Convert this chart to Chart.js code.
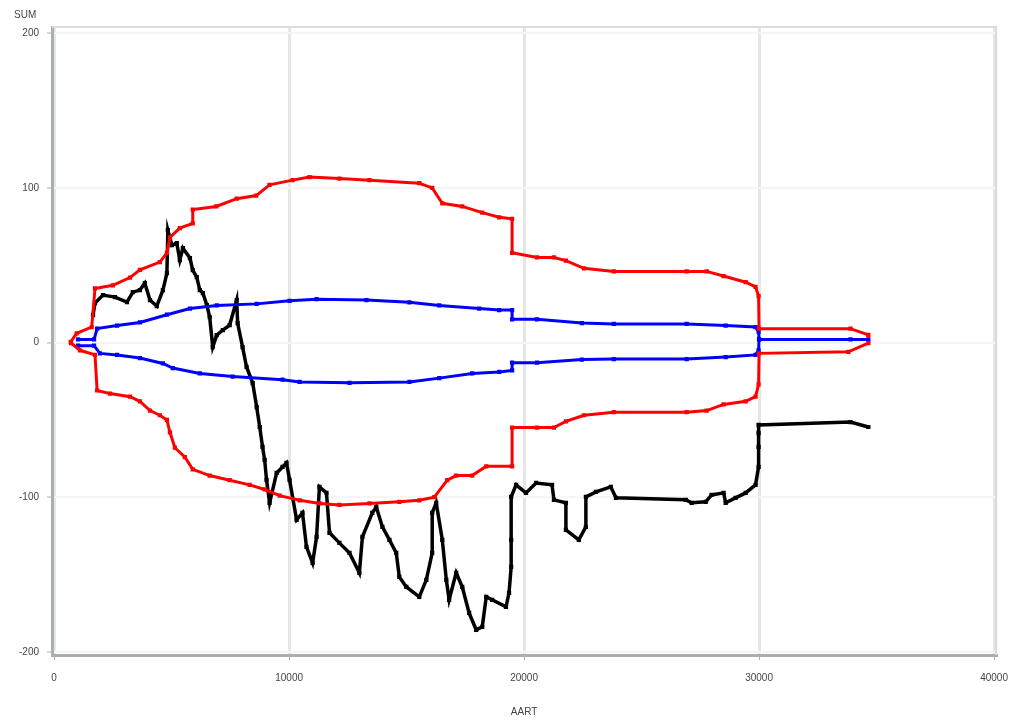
<!DOCTYPE html>
<html>
<head>
<meta charset="utf-8">
<script src="https://cdn.jsdelivr.net/npm/chart.js@4/dist/chart.umd.min.js"></script>
<style>
  html, body { margin: 0; padding: 0; background: #fff; }
  #wrap { width: 1020px; height: 722px; }
</style>
</head>
<body>
<div id="wrap"><canvas id="chart" width="1020" height="722"></canvas></div>
<script>
const X_TICKS = [0, 10000, 20000, 30000, 40000];
const Y_TICKS = [-200, -100, 0, 100, 200];
const X_TITLE = 'AART';
const Y_TITLE = 'SUM';

// outer limits (red)
const redUpper = [
  [710, 0.5], [960, 6], [1600, 10], [1740, 35], [2500, 37], [3230, 42], [3650, 47],
  [4500, 52], [4800, 58], [4930, 68], [5350, 74], [5900, 77], [5900, 86], [6900, 88],
  [7770, 93], [8600, 95], [9170, 102], [10150, 105], [10870, 107], [12140, 106],
  [13420, 105], [15540, 103], [16090, 100], [16520, 90], [17370, 88], [18220, 84],
  [18940, 81], [19490, 80], [19490, 58], [20550, 55], [21270, 55], [21780, 53],
  [22550, 48], [23820, 46], [26920, 46], [27770, 46], [28490, 43], [29430, 39],
  [29850, 36], [29980, 30], [30000, 9], [33890, 9], [34650, 5]
];
const redLower = [
  [720, -0.3], [1100, -5], [1740, -8], [1830, -31], [2380, -33], [3230, -35], [3650, -38],
  [4080, -44], [4500, -47], [4800, -50], [4930, -58], [5140, -68], [5560, -74],
  [5900, -82], [6620, -86], [7470, -89], [8320, -92], [8960, -95], [9600, -99],
  [10450, -102], [11300, -104], [12140, -105], [13420, -104], [14690, -103],
  [15540, -102], [16180, -100], [16730, -89], [17110, -86], [17790, -86], [18390, -80],
  [19490, -80], [19490, -55], [20550, -55], [21270, -55], [21780, -51], [22550, -47],
  [23820, -45], [26920, -45], [27770, -44], [28490, -40], [29430, -38], [29850, -35],
  [29980, -27], [30000, -7], [33800, -6], [34650, -0.3]
];

// inner limits (blue)
const blueUpper = [
  [1020, 2], [1700, 2], [1830, 9], [2680, 11], [3650, 13], [4800, 18], [5780, 22],
  [6920, 24], [8620, 25], [10020, 27], [11170, 28], [13290, 27.5], [15120, 26],
  [16390, 24], [18090, 22], [18940, 21], [19490, 21], [19490, 15], [20550, 15],
  [22460, 12.6], [23820, 12], [26920, 12], [28580, 11], [29850, 10], [29980, 7],
  [30000, 2], [33890, 2], [34650, 2]
];
const blueLower = [
  [1020, -2], [1700, -2], [1950, -7], [2680, -8], [3650, -10], [4630, -13.5], [5050, -16.5],
  [6200, -20], [7600, -22], [9720, -24], [10450, -25.5], [12570, -26], [15120, -25.5],
  [16390, -23], [17790, -20], [18940, -19], [19490, -18], [19490, -13], [20550, -13],
  [22460, -11], [23820, -10.7], [26920, -10.7], [28580, -9.4], [29850, -8], [29980, -5],
  [30000, 2]
];

// cumulative sum (black)
const cusum = [
  [1656, 17.8], [1740, 25.5], [2080, 30.7], [2590, 29.4], [3100, 26.2], [3350, 32.6],
  [3650, 33.9], [3860, 38.4], [4080, 27.5], [4370, 23.6], [4630, 33.9], [4800, 44.9],
  [4840, 72.7], [5010, 63], [5220, 64.3], [5350, 53.3], [5480, 61], [5780, 54.6],
  [5900, 46.8], [6070, 42.3], [6200, 33.9], [6330, 32], [6500, 24.2], [6620, 16.5],
  [6750, -2.9], [6920, 4.8], [7180, 8.1], [7470, 11.3], [7770, 27.5], [7810, 12.6],
  [8020, -2.9], [8190, -15.8], [8450, -26.2], [8620, -41.7], [8750, -54.6], [8870, -67.5],
  [8960, -75.9], [9040, -88.8], [9170, -103.6], [9470, -84.3], [9720, -80.4], [9890, -77.8],
  [10020, -88.8], [10320, -114.6], [10570, -110.1], [10740, -132.1], [11000, -142.5],
  [11170, -125.6], [11290, -93.3], [11590, -97.2], [11720, -123], [12140, -129.5],
  [12570, -136], [12990, -148.9], [13120, -125.6], [13540, -110.1], [13710, -106.3],
  [13970, -119.2], [14270, -127.6], [14560, -136], [14690, -151.5], [14990, -158],
  [15540, -164.4], [15840, -153.4], [16090, -136], [16090, -110.1], [16260, -103.6],
  [16520, -127.6], [16690, -153.4], [16810, -166.3], [17110, -148.9], [17370, -158],
  [17660, -174.8], [17960, -185.7], [18220, -183.8], [18390, -164.4], [18640, -166.3],
  [19230, -170.9], [19360, -161.8], [19450, -145], [19450, -127.6], [19450, -99.8],
  [19660, -92], [20080, -97.2], [20510, -90.8], [21190, -92], [21270, -101.7],
  [21780, -103.6], [21780, -121.1], [22330, -127.6], [22630, -119.2], [22630, -99.8],
  [23060, -96.6], [23690, -93.3], [23910, -100.4], [26880, -101.7], [27130, -103.6],
  [27730, -103], [27980, -98.5], [28490, -97.2], [28580, -103.6], [29000, -100.4],
  [29430, -97.2], [29850, -92], [29980, -80.4], [29980, -67.5], [29980, -58.5],
  [29980, -53.3], [33890, -51.4], [34650, -54.6]
];

const toPts = arr => arr.map(([x, y]) => ({ x, y }));

function series(label, arr, color, width) {
  return {
    label,
    data: toPts(arr),
    showLine: true,
    borderColor: color,
    backgroundColor: color,
    borderWidth: width,
    pointStyle: 'rect',
    pointRadius: 3,
    pointBorderWidth: 0,
    tension: 0,
  };
}

const FONT = { family: '"Liberation Sans Narrow", "Liberation Sans", Arial, sans-serif', size: 10 };

// frame around the plot area plus the y title at top-left
const framePlugin = {
  id: 'frame',
  beforeDatasetsDraw(chart) {
    const { ctx, chartArea: a } = chart;
    ctx.save();
    ctx.strokeStyle = '#dcdcdc';
    ctx.lineWidth = 2;
    ctx.beginPath();
    ctx.moveTo(a.left, a.top);
    ctx.lineTo(a.right, a.top);
    ctx.lineTo(a.right, a.bottom);
    ctx.stroke();
    ctx.restore();
  },
  afterDraw(chart) {
    const { ctx } = chart;
    ctx.save();
    ctx.font = `${FONT.size}px ${FONT.family}`;
    ctx.fillStyle = '#444';
    ctx.textAlign = 'left';
    ctx.textBaseline = 'middle';
    ctx.fillText(Y_TITLE, 14, 15);
    ctx.restore();
  }
};

new Chart(document.getElementById('chart'), {
  type: 'scatter',
  data: {
    datasets: [
      series('Upper limit', redUpper, '#ff0000', 3),
      series('Lower limit', redLower, '#ff0000', 3),
      series('Upper inner', blueUpper, '#0000ff', 3),
      series('Lower inner', blueLower, '#0000ff', 3),
      series('Cusum', cusum, '#000000', 3.5),
    ]
  },
  options: {
    responsive: false,
    animation: false,
    layout: { padding: { left: 0, right: 19, top: 27, bottom: 0 } },
    plugins: { legend: { display: false }, tooltip: { enabled: false } },
    scales: {
      x: {
        type: 'linear',
        min: -90,
        max: 40090,
        afterBuildTicks: s => { s.ticks = X_TICKS.map(v => ({ value: v })); },
        afterFit: s => { s.height = 67; },
        ticks: { color: '#444', font: FONT, padding: 12, maxRotation: 0, callback: v => String(v) },
        grid: { color: '#e6e6e6', lineWidth: 3, tickLength: 5, tickColor: '#a9aeb1', tickWidth: 1 },
        border: { color: '#a9aeb1', width: 3 },
        title: { display: true, text: X_TITLE, color: '#444', font: FONT, padding: { top: 10 } }
      },
      y: {
        type: 'linear',
        min: -202,
        max: 204,
        afterBuildTicks: s => { s.ticks = Y_TICKS.map(v => ({ value: v })); },
        afterFit: s => { s.width = 52; },
        ticks: { color: '#444', font: FONT, padding: 8, callback: v => String(v) },
        grid: { color: '#f5f5f5', lineWidth: 2, tickLength: 5, tickColor: '#a9aeb1', tickWidth: 1 },
        border: { color: '#a9aeb1', width: 3 }
      }
    }
  },
  plugins: [framePlugin]
});
</script>
</body>
</html>
